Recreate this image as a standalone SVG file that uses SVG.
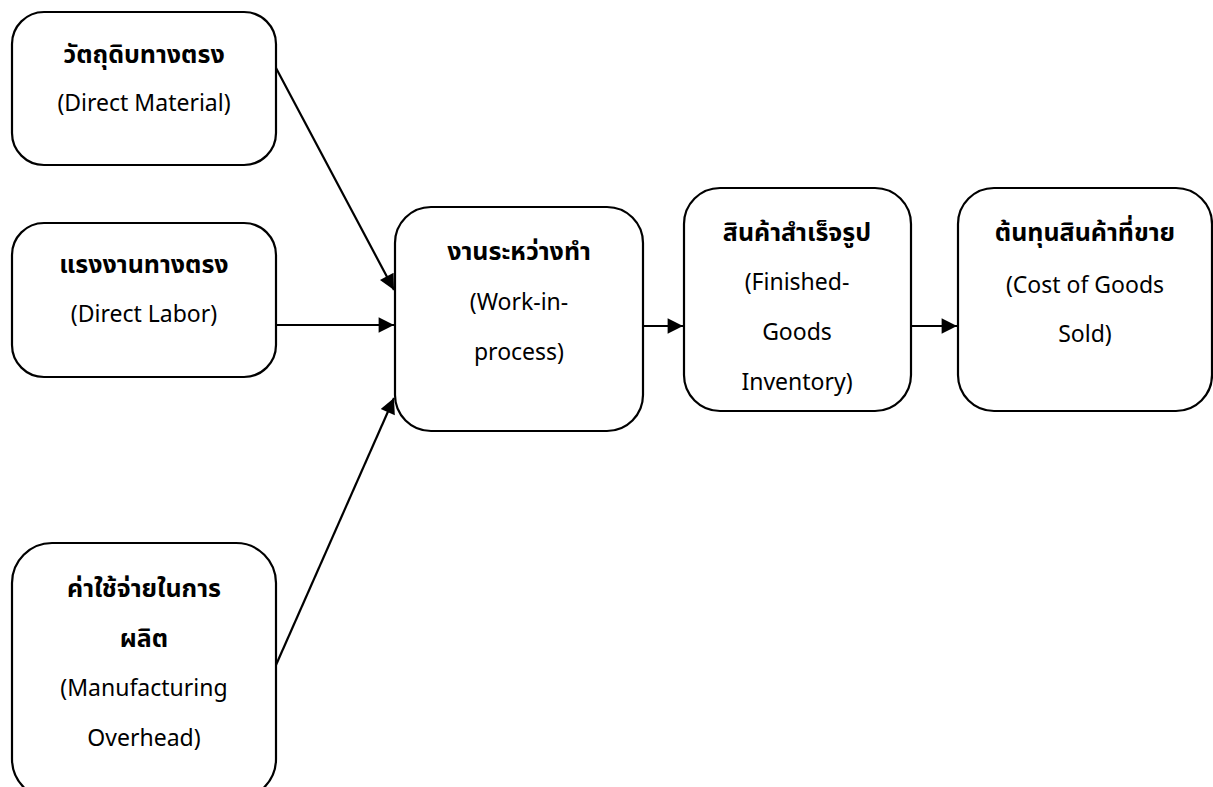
<svg xmlns="http://www.w3.org/2000/svg" width="1213" height="787" viewBox="0 0 1213 787">
  <style>
    .box { fill: #ffffff; stroke: #000000; stroke-width: 2.2; }
    .th { font-family: "Noto Sans Thai", "Noto Sans", "DejaVu Sans", sans-serif; font-size: 25px; font-weight: bold; fill: #000; text-anchor: middle; }
    .en { font-family: "Noto Sans", "Open Sans", "DejaVu Sans", sans-serif; font-size: 23px; fill: #000; text-anchor: middle; }
    .edge { stroke: #000; stroke-width: 2.2; fill: none; marker-end: url(#arrow); }
  </style>
  <defs>
    <marker id="arrow" viewBox="0 0 10 10" refX="10" refY="5" markerWidth="8.5" markerHeight="7" markerUnits="strokeWidth" orient="auto">
      <path d="M0,0 L10,5 L0,10 z" fill="#000"/>
    </marker>
  </defs>
  <rect width="1213" height="787" fill="#ffffff"/>

  <g id="direct-material">
    <rect class="box" x="12" y="12" width="264" height="153" rx="32"/>
    <text class="th" x="144" y="63">วัตถุดิบทางตรง</text>
    <text class="en" x="144" y="111">(Direct Material)</text>
  </g>

  <g id="direct-labor">
    <rect class="box" x="12" y="223" width="264" height="154" rx="32"/>
    <text class="th" x="144" y="273">แรงงานทางตรง</text>
    <text class="en" x="144" y="322">(Direct Labor)</text>
  </g>

  <g id="overhead">
    <rect class="box" x="12" y="543" width="264" height="256" rx="40"/>
    <text class="th" x="144" y="597">ค่าใช้จ่ายในการ</text>
    <text class="th" x="144" y="647">ผลิต</text>
    <text class="en" x="144" y="696">(Manufacturing</text>
    <text class="en" x="144" y="746">Overhead)</text>
  </g>

  <g id="work-in-process">
    <rect class="box" x="395" y="207" width="248" height="224" rx="36"/>
    <text class="th" x="519" y="260">งานระหว่างทำ</text>
    <text class="en" x="519" y="310">(Work-in-</text>
    <text class="en" x="519" y="360">process)</text>
  </g>

  <g id="finished-goods">
    <rect class="box" x="684" y="188" width="227" height="223" rx="36"/>
    <text class="th" x="797" y="241">สินค้าสำเร็จรูป</text>
    <text class="en" x="797" y="290">(Finished-</text>
    <text class="en" x="797" y="340">Goods</text>
    <text class="en" x="797" y="390">Inventory)</text>
  </g>

  <g id="cost-of-goods-sold">
    <rect class="box" x="958" y="188" width="254" height="223" rx="36"/>
    <text class="th" x="1085" y="241">ต้นทุนสินค้าที่ขาย</text>
    <text class="en" x="1085" y="293">(Cost of Goods</text>
    <text class="en" x="1085" y="342">Sold)</text>
  </g>

  <g id="connectors">
    <line class="edge" x1="276" y1="68" x2="394" y2="290"/>
    <line class="edge" x1="276" y1="325" x2="394" y2="325"/>
    <line class="edge" x1="276" y1="665" x2="394" y2="398"/>
    <line class="edge" x1="643" y1="326" x2="683" y2="326"/>
    <line class="edge" x1="911" y1="326" x2="957" y2="326"/>
  </g>
</svg>
